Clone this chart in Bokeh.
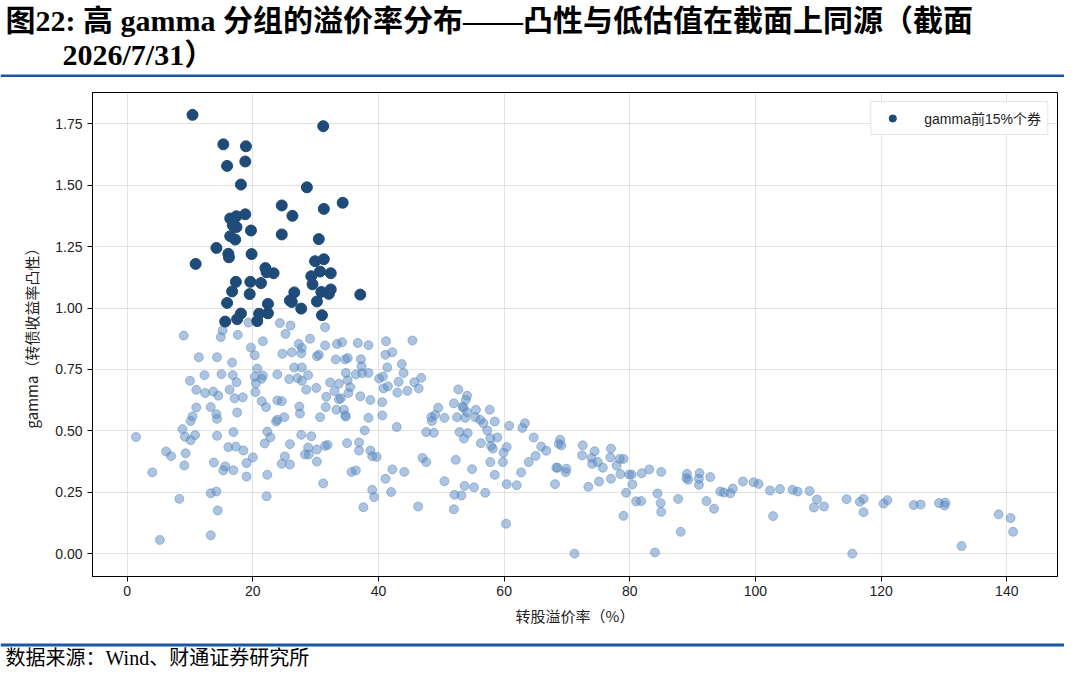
from bokeh.plotting import figure
from bokeh.models import Range1d, Label, Span, Legend, LegendItem, FixedTicker, PrintfTickFormatter
from bokeh.layouts import column
from bokeh.embed import file_html
from bokeh.resources import INLINE

# ---------------- data ----------------
title_line1 = "图22: 高 gamma 分组的溢价率分布——凸性与低估值在截面上同源（截面"
title_line2 = "2026/7/31）"
source_text = "数据来源：Wind、财通证券研究所"
x_label = "转股溢价率（%）"
y_label = "gamma（转债收益率凸性）"
legend_label = "gamma前15%个券"

x_ticks = [0, 20, 40, 60, 80, 100, 120, 140]
y_ticks = [0.0, 0.25, 0.5, 0.75, 1.0, 1.25, 1.5, 1.75]

# other bonds (premium %, gamma)
rest_premium = [
    19.3, 24.3, 26.0, 31.5, 15.2, 9.0, 14.9, 17.6, 25.2, 21.6, 29.1, 27.3, 33.4, 34.2, 36.7, 38.4, 41.2, 45.4,
    19.7, 27.8, 31.5, 20.3, 24.7, 26.2, 27.7, 30.2, 30.5, 33.2, 34.7, 35.1, 37.2, 37.3, 41.1, 42.2, 11.4, 14.3,
    16.7, 43.7, 26.6, 27.8, 20.7, 41.4, 12.3, 15.0, 16.8, 20.3, 21.6, 21.4, 23.9, 25.8, 27.1, 27.8, 28.8, 34.8,
    36.4, 37.4, 38.4, 44.0, 40.1, 40.7, 46.8, 10.0, 17.4, 20.5, 32.3, 33.7, 35.1, 43.2, 45.7, 11.0, 12.4, 13.7,
    14.5, 16.3, 20.4, 17.1, 18.4, 28.5, 30.1, 33.0, 35.2, 35.5, 31.7, 33.7, 34.0, 37.1, 38.7, 40.8, 41.5, 43.0,
    44.6, 46.4, 21.4, 23.9, 24.6, 22.1, 11.0, 13.3, 14.2, 10.4, 10.1, 14.3, 17.5, 27.4, 27.5, 31.6, 33.3, 34.5,
    34.7, 34.8, 30.7, 23.7, 23.9, 25.0, 38.4, 40.6, 40.6, 48.4, 49.0, 49.5, 48.5, 8.8, 9.2, 10.1, 10.8, 1.4,
    14.3, 16.9, 22.3, 22.8, 27.7, 29.3, 37.8, 42.9, 47.6, 48.8, 6.2, 7.0, 9.3, 16.1, 17.3, 18.5, 20.0, 21.9,
    25.9, 25.1, 28.8, 28.3, 28.9, 30.2, 31.5, 31.9, 35.0, 36.9, 36.9, 38.7, 39.0, 39.7, 47.0, 47.6, 4.0, 9.1,
    13.8, 15.6, 15.3, 16.9, 19.0, 19.0, 22.3, 24.6, 25.9, 30.2, 31.2, 35.7, 36.4, 41.1, 42.2, 44.1, 8.3, 13.3,
    14.2, 14.4, 22.2, 39.0, 39.3, 42.0, 37.6, 46.3, 5.2, 13.3,
    52.7, 54.1, 53.9, 52.0, 53.4, 53.5, 54.1, 55.5, 57.7, 52.5, 53.8, 50.5, 55.4, 56.2, 56.7, 58.5, 57.3, 52.9,
    54.2, 53.6, 57.8, 58.9, 56.3, 57.9, 58.2, 60.8, 63.3, 62.9, 60.4, 59.9, 64.7, 65.9, 66.7, 65.0, 68.9, 68.7,
    69.1, 72.5, 72.4, 74.4, 73.9, 74.0, 74.9, 77.0, 76.9, 78.4, 79.0, 75.7, 77.9, 78.5, 79.9, 80.3, 81.9, 83.1,
    85.0, 80.4, 79.4, 81.0, 81.8, 84.4, 84.9, 85.0, 79.0, 87.7, 89.1, 89.0, 89.3, 91.1, 91.0, 91.0, 92.8, 94.4,
    95.0, 96.0, 96.4, 92.2, 93.4, 98.0, 99.7, 100.5, 88.1, 84.0, 71.2, 52.3, 54.9, 57.8, 59.8, 58.5, 50.5, 53.7,
    55.2, 52.1, 53.2, 57.0, 60.4, 62.0, 62.7, 63.9, 68.3, 68.5, 69.8, 69.9, 68.1, 73.4, 75.1, 77.0, 52.0, 60.3,
    102.3, 103.9, 105.9, 106.7, 108.6, 109.8, 109.3, 110.9, 102.8, 114.5, 116.6, 117.2, 117.2, 120.4, 121.0,
    125.2, 126.3, 129.2, 130.2, 130.1, 138.7, 140.6, 141.0, 132.8, 115.4,
]
rest_gamma = [
    0.941, 0.939, 0.929, 0.922, 0.909, 0.888, 0.882, 0.891, 0.895, 0.865, 0.875, 0.854, 0.854, 0.861, 0.858, 0.849, 0.865, 0.868,
    0.839, 0.838, 0.848, 0.808, 0.814, 0.820, 0.816, 0.804, 0.810, 0.791, 0.791, 0.797, 0.792, 0.763, 0.810, 0.820, 0.800, 0.800,
    0.778, 0.772, 0.758, 0.758, 0.754, 0.758, 0.727, 0.731, 0.727, 0.720, 0.725, 0.712, 0.730, 0.711, 0.715, 0.704, 0.727, 0.736,
    0.730, 0.735, 0.736, 0.736, 0.713, 0.721, 0.716, 0.704, 0.698, 0.694, 0.697, 0.692, 0.706, 0.700, 0.698, 0.667, 0.654, 0.660,
    0.643, 0.668, 0.658, 0.633, 0.637, 0.668, 0.675, 0.662, 0.654, 0.678, 0.639, 0.629, 0.633, 0.641, 0.626, 0.673, 0.681, 0.656,
    0.663, 0.673, 0.621, 0.624, 0.621, 0.597, 0.595, 0.597, 0.568, 0.559, 0.540, 0.549, 0.575, 0.599, 0.571, 0.597, 0.586, 0.586,
    0.563, 0.558, 0.556, 0.538, 0.545, 0.556, 0.553, 0.617, 0.563, 0.556, 0.565, 0.594, 0.540, 0.507, 0.476, 0.462, 0.483, 0.475,
    0.480, 0.495, 0.497, 0.474, 0.484, 0.478, 0.502, 0.516, 0.495, 0.492, 0.416, 0.397, 0.409, 0.434, 0.436, 0.420, 0.392, 0.449,
    0.446, 0.396, 0.432, 0.404, 0.404, 0.424, 0.439, 0.443, 0.450, 0.453, 0.420, 0.420, 0.397, 0.394, 0.390, 0.373, 0.331, 0.359,
    0.371, 0.355, 0.339, 0.340, 0.369, 0.314, 0.321, 0.366, 0.363, 0.375, 0.286, 0.333, 0.339, 0.305, 0.343, 0.333, 0.223, 0.246,
    0.253, 0.176, 0.234, 0.260, 0.230, 0.251, 0.189, 0.192, 0.056, 0.075,
    0.669, 0.643, 0.626, 0.612, 0.599, 0.594, 0.576, 0.586, 0.586, 0.556, 0.553, 0.553, 0.556, 0.545, 0.531, 0.538, 0.502, 0.495,
    0.491, 0.469, 0.470, 0.473, 0.450, 0.439, 0.428, 0.521, 0.531, 0.512, 0.434, 0.411, 0.473, 0.436, 0.419, 0.398, 0.464, 0.447,
    0.441, 0.441, 0.400, 0.417, 0.390, 0.366, 0.373, 0.428, 0.392, 0.386, 0.386, 0.350, 0.359, 0.324, 0.322, 0.322, 0.327, 0.343,
    0.333, 0.282, 0.248, 0.213, 0.214, 0.245, 0.206, 0.170, 0.154, 0.223, 0.325, 0.308, 0.301, 0.328, 0.305, 0.280, 0.312, 0.253,
    0.249, 0.246, 0.265, 0.214, 0.183, 0.294, 0.291, 0.284, 0.089, 0.005, 0.000, 0.382, 0.344, 0.373, 0.373, 0.321, 0.295, 0.276,
    0.270, 0.240, 0.237, 0.248, 0.283, 0.279, 0.331, 0.373, 0.350, 0.350, 0.332, 0.346, 0.283, 0.272, 0.294, 0.305, 0.181, 0.122,
    0.257, 0.263, 0.260, 0.253, 0.255, 0.221, 0.188, 0.192, 0.153, 0.222, 0.211, 0.223, 0.169, 0.204, 0.218,
    0.198, 0.200, 0.206, 0.208, 0.196, 0.160, 0.145, 0.089, 0.031, 0.000,
]

# top 15% gamma bonds
top_premium = [
    10.4, 31.2, 15.3, 18.9, 15.9, 18.8, 18.1, 28.6, 24.6, 34.3, 26.3, 31.3, 16.4, 17.4, 18.8, 16.8, 17.4, 19.7,
    24.6, 30.5, 16.4, 17.2, 14.2, 10.9, 16.1, 16.2, 19.8, 29.9, 31.3, 22.0, 22.2, 23.3, 30.7, 32.4, 29.3, 29.5,
    17.3, 19.6, 21.3, 16.7, 19.5, 26.6, 25.9, 30.9, 32.4, 32.1, 37.1, 15.9, 22.4, 30.2, 27.7, 18.1, 17.5, 15.6,
    21.0, 22.4, 20.7, 31.0, 26.2,
]
top_gamma = [
    1.787, 1.741, 1.667, 1.659, 1.579, 1.597, 1.503, 1.492, 1.418, 1.429, 1.376, 1.404, 1.365, 1.374, 1.382, 1.338, 1.330, 1.316,
    1.300, 1.281, 1.293, 1.279, 1.245, 1.180, 1.221, 1.207, 1.220, 1.191, 1.199, 1.163, 1.146, 1.142, 1.149, 1.142, 1.130, 1.097,
    1.107, 1.107, 1.102, 1.068, 1.057, 1.064, 1.031, 1.066, 1.076, 1.058, 1.055, 1.021, 1.017, 1.027, 0.998, 0.978, 0.955, 0.945,
    0.977, 0.979, 0.947, 0.971, 1.025,
]

# ---------------- styles ----------------
W = 1064
BL, BR = 92, 7          # left / right border of the plotting frame
BLUE_RULE = "#1a57a5"
TITLE_FONT = "Liberation Serif, Noto Sans CJK SC"
CJK_FONT = "Noto Sans CJK SC"
TICK_FONT = "Liberation Sans, Noto Sans CJK SC"


def no_align(f):
    if "frame_align" in f.properties():
        f.frame_align = False


def blank(h):
    f = figure(width=W, height=h, x_range=Range1d(0, W), y_range=Range1d(h, 0),
               toolbar_location=None, output_backend="svg", min_border=0)
    f.axis.visible = False
    f.grid.visible = False
    f.outline_line_color = None
    f.background_fill_color = "white"
    f.border_fill_color = "white"
    no_align(f)
    return f


# header
top = blank(77)
top.add_layout(Label(x=5, y=20, text=title_line1, text_font=TITLE_FONT, text_font_size="30px",
                     text_font_style="bold", text_baseline="middle", text_align="left", text_color="black"))
top.add_layout(Label(x=62, y=54, text=title_line2, text_font=TITLE_FONT, text_font_size="30px",
                     text_font_style="bold", text_baseline="middle", text_align="left", text_color="black"))
top.add_layout(Span(location=75.5, dimension="width", line_color=BLUE_RULE, line_width=3))

# main chart
p = figure(width=W, height=562, x_range=Range1d(-5.52, 148.07), y_range=Range1d(-0.093, 1.878),
           toolbar_location=None, output_backend="svg",
           min_border_left=BL, min_border_right=BR, min_border_top=15, min_border_bottom=63)
no_align(p)
p.background_fill_color = "white"
p.border_fill_color = "white"
p.outline_line_color = "black"
p.outline_line_width = 1

p.xaxis.ticker = FixedTicker(ticks=x_ticks)
p.yaxis.ticker = FixedTicker(ticks=y_ticks)
p.yaxis.formatter = PrintfTickFormatter(format="%.2f")
p.xgrid.ticker = FixedTicker(ticks=x_ticks)
p.ygrid.ticker = FixedTicker(ticks=y_ticks)
p.grid.grid_line_color = "#b0b0b0"
p.grid.grid_line_alpha = 0.35
p.grid.grid_line_width = 1

for ax in (p.xaxis, p.yaxis):
    ax.axis_line_color = "black"
    ax.major_tick_line_color = "black"
    ax.major_tick_out = 5
    ax.major_tick_in = 0
    ax.minor_tick_out = 0
    ax.minor_tick_in = 0
    ax.major_label_text_font = TICK_FONT
    ax.major_label_text_font_size = "14px"
    ax.major_label_text_color = "#222222"
    ax.axis_label_text_font = CJK_FONT
    ax.axis_label_text_font_size = "15px"
    ax.axis_label_text_font_style = "normal"
    ax.axis_label_text_color = "#222222"

p.xaxis.axis_label = x_label
p.yaxis.axis_label = y_label
p.xaxis.major_label_standoff = 4
p.yaxis.major_label_standoff = 5
p.xaxis.axis_label_standoff = 6
p.yaxis.axis_label_standoff = 10

rest_r = p.scatter(rest_premium, rest_gamma, size=9, marker="circle",
                   fill_color="#5a8ac0", line_color="#5a8ac0", fill_alpha=0.5, line_alpha=0.5, line_width=1)
top_r = p.scatter(top_premium, top_gamma, size=11, marker="circle",
                  fill_color="#1f4b78", line_color="#1f4b78", line_width=1)

legend = Legend(items=[LegendItem(label=legend_label, renderers=[top_r])], location="top_right")
legend.margin = 9
legend.padding = 6
legend.glyph_width = 30
legend.glyph_height = 18
legend.label_height = 18
legend.label_standoff = 17
legend.label_text_font = TICK_FONT
legend.label_text_font_size = "14px"
legend.label_text_color = "#222222"
legend.border_line_color = "#cccccc"
legend.border_line_width = 1
legend.background_fill_color = "white"
legend.background_fill_alpha = 0.9
p.add_layout(legend)

# footer
bot = blank(28)
bot.add_layout(Span(location=5.5, dimension="width", line_color=BLUE_RULE, line_width=3))
bot.add_layout(Label(x=5, y=18, text=source_text, text_font=TITLE_FONT, text_font_size="20px",
                     text_baseline="middle", text_align="left", text_color="black"))

layout = column(top, p, bot, spacing=0)
open("out.html", "w").write(file_html(layout, INLINE))
